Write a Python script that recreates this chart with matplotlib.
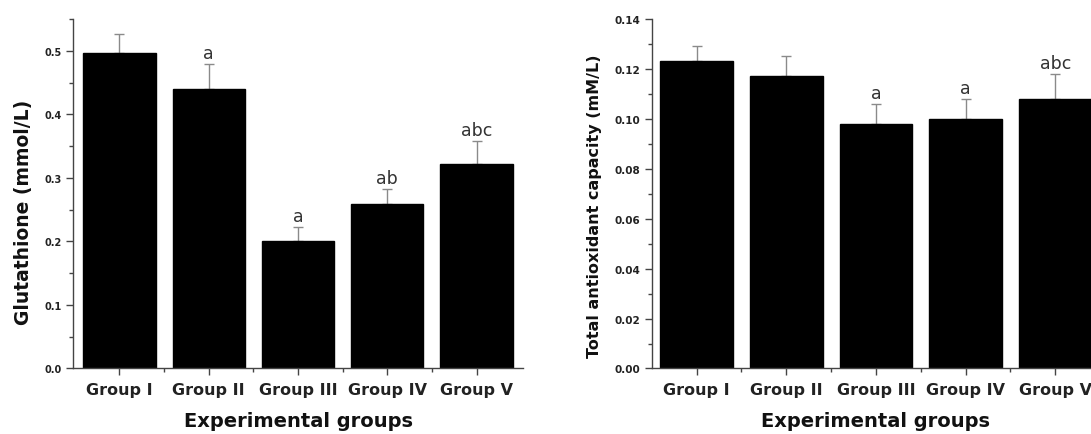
import numpy as np
import matplotlib
matplotlib.use('Agg')
import matplotlib.pyplot as plt
from matplotlib.ticker import MultipleLocator, FixedLocator, FormatStrFormatter

groups = ['Group I', 'Group II', 'Group III', 'Group IV', 'Group V']

gsh_mean = [0.497, 0.440, 0.201, 0.259, 0.322]
gsh_err = [0.029, 0.039, 0.021, 0.024, 0.036]
gsh_sig = ['', 'a', 'a', 'ab', 'abc']

tac_mean = [0.123, 0.117, 0.098, 0.100, 0.108]
tac_err = [0.006, 0.008, 0.008, 0.008, 0.010]
tac_sig = ['', '', 'a', 'a', 'abc']

plt.rcParams['font.family'] = ['DejaVu Sans']
AX_C = '#444444'

fig = plt.figure(figsize=(10.91, 4.35), dpi=100)
ax1 = fig.add_axes([0.0669, 0.1506, 0.4125, 0.8034])
ax2 = fig.add_axes([0.5973, 0.1506, 0.4111, 0.8034])


def panel(ax, mean, err, sig, ylim, major, fmt, ytick_fs, ylabel, ylab_fs, ylab_xy, xlim):
    x = np.arange(1, len(groups) + 1)
    ax.bar(x, mean, width=0.81, color='black', edgecolor='black', zorder=2)
    ax.errorbar(x, mean, yerr=[np.zeros(len(err)), err], fmt='none',
                ecolor='#8a8a8a', elinewidth=1.0, capsize=3.5, capthick=1.0, zorder=1)
    for xi, m, e, s in zip(x, mean, err, sig):
        if s:
            ax.annotate(s, xy=(xi, m + e), xytext=(0, 1.5), textcoords='offset points',
                        ha='center', va='bottom', fontsize=12.5, color='#333333')
    ax.set_xlim(*xlim)
    ax.set_ylim(*ylim)
    ax.set_xticks(x)
    ax.set_xticklabels(groups, fontsize=11.5, fontweight='bold', color='#222222')
    ax.xaxis.set_minor_locator(FixedLocator(x[:-1] + 0.5))
    ax.yaxis.set_major_locator(MultipleLocator(major))
    ax.yaxis.set_minor_locator(MultipleLocator(major / 2))
    ax.yaxis.set_major_formatter(FormatStrFormatter(fmt))
    ax.tick_params(axis='both', which='major', direction='out', length=5, width=1, color=AX_C, pad=3)
    ax.tick_params(axis='both', which='minor', direction='out', length=3, width=1, color=AX_C)
    ax.tick_params(axis='x', which='major', pad=5)
    ax.tick_params(axis='y', labelsize=ytick_fs, labelcolor='#222222')
    for lbl in ax.get_yticklabels():
        lbl.set_fontweight('bold')
    for side in ['top', 'right']:
        ax.spines[side].set_visible(False)
    for side in ['left', 'bottom']:
        ax.spines[side].set_color(AX_C)
        ax.spines[side].set_linewidth(1.0)
    ax.set_ylabel(ylabel, fontsize=ylab_fs, fontweight='bold', color='#111111')
    ax.yaxis.set_label_coords(*ylab_xy)
    ax.set_xlabel('Experimental groups', fontsize=14, fontweight='bold', color='#111111', labelpad=10)


panel(ax1, gsh_mean, gsh_err, gsh_sig, (0, 0.55), 0.1, '%.1f', 7, 'Glutathione (mmol/L)', 13.5,
      (-0.089, 0.45), (0.48, 5.52))
panel(ax2, tac_mean, tac_err, tac_sig, (0, 0.14), 0.02, '%.2f', 7.5, 'Total antioxidant capacity (mM/L)', 11.5,
      (-0.111, 0.468), (0.5, 5.5))

fig.savefig('out.png', dpi=100)
